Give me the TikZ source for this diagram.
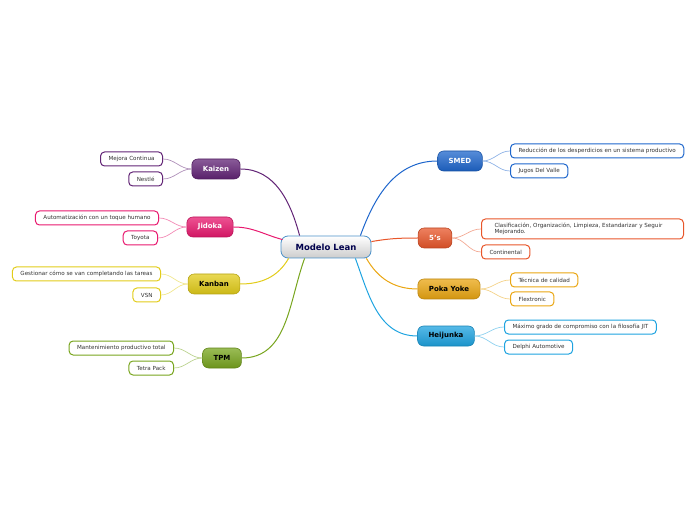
\documentclass[tikz,border=0pt]{standalone}
\usepackage{fontspec}
\setmainfont{DejaVu Sans}
\definecolor{mcenter}{RGB}{74,144,200}
\definecolor{mkaizen}{RGB}{98,36,118}
\definecolor{mjidoka}{RGB}{232,24,110}
\definecolor{mkanban}{RGB}{226,204,26}
\definecolor{mtpm}{RGB}{120,165,30}
\definecolor{msmed}{RGB}{30,102,204}
\definecolor{mfive}{RGB}{232,86,42}
\definecolor{mpoka}{RGB}{234,166,18}
\definecolor{mheij}{RGB}{30,163,224}
\usetikzlibrary{positioning,calc}
\tikzset{
  root/.style={rectangle,rounded corners=7pt,draw=mcenter,line width=0.8pt,
    top color=white,bottom color=black!20,minimum width=90pt,minimum height=22pt,
    font=\fontsize{8.5}{10}\selectfont\bfseries,text=blue!30!black},
  idea/.style={rectangle,rounded corners=6pt,draw=#1!80!black,line width=0.6pt,
    top color=#1!75,bottom color=#1!90!black,minimum height=20pt,inner xsep=11pt,
    font=\fontsize{7}{8}\selectfont\bfseries,text=white},
  darkidea/.style={idea=#1,text=black},
  note/.style={rectangle,rounded corners=4pt,draw=#1,line width=1pt,fill=white,
    minimum height=14pt,inner xsep=8pt,inner ysep=2pt,
    font=\fontsize{5.6}{6.6}\selectfont,text=black!80},
  branch/.style={draw=#1,line width=1pt},
  twig/.style={draw=#1!50,line width=0.7pt},
}
\begin{document}
\begin{tikzpicture}[x=1pt,y=1pt]
  \useasboundingbox (0,0) rectangle (696,520);

  \node[root] (lean) at (326,273) {Modelo Lean};

  % left side
  \node[idea=mkaizen] (kaizen) at (216,351) {Kaizen};
  \node[note=mkaizen,anchor=east] (mejora) at (163,361) {Mejora Continua};
  \node[note=mkaizen,anchor=east] (nestle) at (163,341) {Nestlé};

  \node[idea=mjidoka] (jidoka) at (210,293) {Jidoka};
  \node[note=mjidoka,anchor=east] (autom) at (159,302) {Automatización con un toque humano};
  \node[note=mjidoka,anchor=east] (toyota) at (158,282) {Toyota};

  \node[darkidea=mkanban] (kanban) at (214,236) {Kanban};
  \node[note=mkanban,anchor=east] (gestion) at (161,246) {Gestionar cómo se van completando las tareas};
  \node[note=mkanban,anchor=east] (vsn) at (161,225) {VSN};

  \node[darkidea=mtpm] (tpm) at (222,162) {TPM};
  \node[note=mtpm,anchor=east] (mant) at (174,172) {Mantenimiento productivo total};
  \node[note=mtpm,anchor=east] (tetra) at (174,152) {Tetra Pack};

  % right side
  \node[idea=msmed] (smed) at (460,359) {SMED};
  \node[note=msmed,anchor=west] (reduc) at (510,369) {Reducción de los desperdicios en un sistema productivo};
  \node[note=msmed,anchor=west] (jugos) at (510,349) {Jugos Del Valle};

  \node[idea=mfive] (five) at (435,282) {5's};
  \node[note=mfive,anchor=west,text width=176pt,inner xsep=13pt,minimum height=20pt,align=left] (clasif) at (481,291)
    {Clasificación, Organización, Limpieza, Estandarizar y Seguir Mejorando.};
  \node[note=mfive,anchor=west] (conti) at (481,268) {Continental};

  \node[darkidea=mpoka] (poka) at (449,231) {Poka Yoke};
  \node[note=mpoka,anchor=west] (tecnica) at (510,240) {Técnica de calidad};
  \node[note=mpoka,anchor=west] (flex) at (510,221) {Flextronic};

  \node[darkidea=mheij] (heij) at (446,184) {Heijunka};
  \node[note=mheij,anchor=west] (maximo) at (504,193) {Máximo grado de compromiso con la filosofía JIT};
  \node[note=mheij,anchor=west] (delphi) at (504,173) {Delphi Automotive};

  % branches
  \draw[branch=mkaizen] ([xshift=19pt]lean.north west) to[out=105,in=0] (kaizen.east);
  \draw[branch=mjidoka] ([xshift=2pt,yshift=-4pt]lean.north west) to[out=165,in=0] (jidoka.east);
  \draw[branch=mkanban] ([xshift=8pt]lean.south west) to[out=240,in=0] (kanban.east);
  \draw[branch=mtpm] ([xshift=24pt]lean.south west) to[out=250,in=0] (tpm.east);
  \draw[branch=msmed] ([xshift=-11pt]lean.north east) to[out=70,in=180] (smed.west);
  \draw[branch=mfive] ([yshift=-6pt]lean.north east) to[out=10,in=180] (five.west);
  \draw[branch=mpoka] ([xshift=-5pt]lean.south east) to[out=-60,in=180] (poka.west);
  \draw[branch=mheij] ([xshift=-16pt]lean.south east) to[out=-70,in=180] (heij.west);

  % twigs
  \draw[twig=mkaizen] (kaizen.west) to[out=180,in=0] (mejora.east);
  \draw[twig=mkaizen] (kaizen.west) to[out=180,in=0] (nestle.east);
  \draw[twig=mjidoka] (jidoka.west) to[out=180,in=0] (autom.east);
  \draw[twig=mjidoka] (jidoka.west) to[out=180,in=0] (toyota.east);
  \draw[twig=mkanban] (kanban.west) to[out=180,in=0] (gestion.east);
  \draw[twig=mkanban] (kanban.west) to[out=180,in=0] (vsn.east);
  \draw[twig=mtpm] (tpm.west) to[out=180,in=0] (mant.east);
  \draw[twig=mtpm] (tpm.west) to[out=180,in=0] (tetra.east);
  \draw[twig=msmed] (smed.east) to[out=0,in=180] (reduc.west);
  \draw[twig=msmed] (smed.east) to[out=0,in=180] (jugos.west);
  \draw[twig=mfive] (five.east) to[out=0,in=180] (clasif.west);
  \draw[twig=mfive] (five.east) to[out=0,in=180] (conti.west);
  \draw[twig=mpoka] (poka.east) to[out=0,in=180] (tecnica.west);
  \draw[twig=mpoka] (poka.east) to[out=0,in=180] (flex.west);
  \draw[twig=mheij] (heij.east) to[out=0,in=180] (maximo.west);
  \draw[twig=mheij] (heij.east) to[out=0,in=180] (delphi.west);
\end{tikzpicture}
\end{document}
